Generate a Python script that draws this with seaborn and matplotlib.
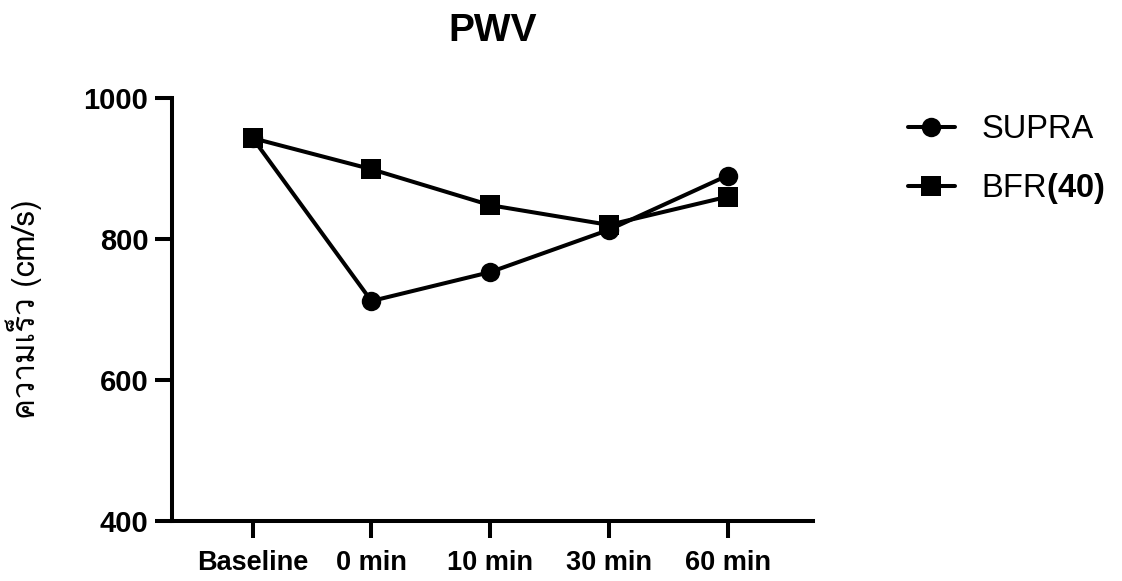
import numpy as np
import pandas as pd
import seaborn as sns
import matplotlib
matplotlib.use("Agg")
import matplotlib.pyplot as plt
from matplotlib import font_manager
from matplotlib.ft2font import FT2Font

# Measurement time points and mean pulse wave velocity per protocol
timepoints = ["Baseline", "0 min", "10 min", "30 min", "60 min"]
supra = [943, 712, 753, 813, 890]
bfr40 = [943, 899, 848, 820, 860]
series_names = ["SUPRA", "BFR(40)"]
y_ticks = [400, 600, 800, 1000]

title = "PWV"
y_label = "ความเร็ว (cm/s)"

df = pd.DataFrame({
    "idx": list(range(len(timepoints))) * 2,
    "value": supra + bfr40,
    "series": [series_names[0]] * len(supra) + [series_names[1]] * len(bfr40),
})

sns.set_theme(style="ticks")


def thai_fonts():
    names = []
    for f in font_manager.fontManager.ttflist:
        try:
            if 0x0E04 in FT2Font(f.fname).get_charmap():
                if f.name not in names:
                    names.append(f.name)
        except Exception:
            pass
    return names


base_fonts = ["Liberation Sans", "DejaVu Sans"]
plt.rcParams["font.family"] = base_fonts
plt.rcParams["mathtext.fontset"] = "custom"
plt.rcParams["mathtext.rm"] = "Liberation Sans"
plt.rcParams["mathtext.bf"] = "Liberation Sans:bold"
for key in ("text.color", "axes.labelcolor", "xtick.color", "ytick.color", "axes.edgecolor"):
    plt.rcParams[key] = "black"

fig = plt.figure(figsize=(11.22, 5.81), dpi=100)
ax = fig.add_axes([0.1533, 0.1033, 0.5713, 0.728])

sns.lineplot(
    data=df, x="idx", y="value", hue="series", style="series",
    palette={series_names[0]: "black", series_names[1]: "black"},
    markers={series_names[0]: "o", series_names[1]: "s"},
    dashes=False, markersize=14, markeredgewidth=0, linewidth=2.9,
    ax=ax, legend=False,
)

ax.set_xlim(-0.68, 4.72)
ax.set_ylim(400, 1000)
ax.set_yticks(y_ticks)
ax.set_xticks(range(len(timepoints)))
ax.set_xticklabels(timepoints)
for lbl in ax.get_xticklabels():
    lbl.set_fontweight("bold")
    lbl.set_fontsize(19.5)
for lbl in ax.get_yticklabels():
    lbl.set_fontweight("bold")
    lbl.set_fontsize(21)
ax.tick_params(axis="both", length=12, width=2.9, colors="black")
ax.tick_params(axis="y", pad=5)
ax.tick_params(axis="x", pad=9)
sns.despine(ax=ax)
for side in ("left", "bottom"):
    ax.spines[side].set_linewidth(2.9)
    ax.spines[side].set_color("black")
    ax.spines[side].set_capstyle("projecting")

ax.set_xlabel("")
ax.set_ylabel(y_label, fontsize=22.5, family=thai_fonts()[:1] + base_fonts, labelpad=30)
ax.set_title(title, fontsize=28, fontweight="bold", pad=41)

# Legend on the right of the axes
handles = [
    plt.Line2D([], [], color="black", marker="o", markersize=14, markeredgewidth=0, linewidth=2.9),
    plt.Line2D([], [], color="black", marker="s", markersize=14, markeredgewidth=0, linewidth=2.9),
]
labels = ["SUPRA", r"BFR$\mathbf{(40)}$"]
fig.legend(handles, labels, loc="center left", bbox_to_anchor=(0.809, 0.7245),
           frameon=False, fontsize=23.5, handlelength=1.45, handletextpad=0.8,
           labelspacing=0.8, borderpad=0, borderaxespad=0)

fig.savefig("out.png", dpi=100)
